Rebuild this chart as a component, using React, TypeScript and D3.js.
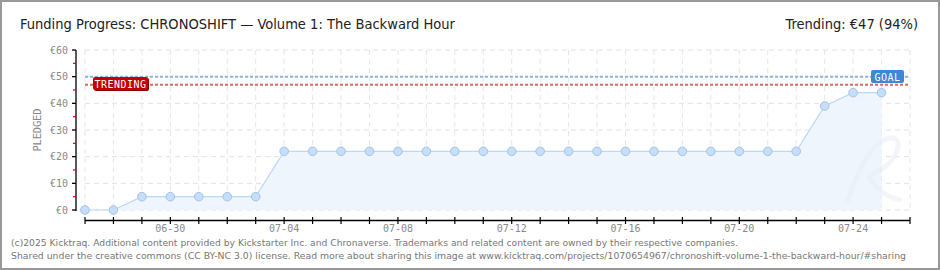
import React from "react";
import * as d3 from "d3";

const dates = ["06-27","06-28","06-29","06-30","07-01","07-02","07-03","07-04","07-05","07-06","07-07","07-08","07-09","07-10","07-11","07-12","07-13","07-14","07-15","07-16","07-17","07-18","07-19","07-20","07-21","07-22","07-23","07-24","07-25"];
const pledged = [0,0,5,5,5,5,5,22,22,22,22,22,22,22,22,22,22,22,22,22,22,22,22,22,22,22,39,44,44];
const axisDays = 30; // 06-27 .. 07-26
const labelDays = [3, 7, 11, 15, 19, 23, 27];
const labelTexts = ["06-30","07-04","07-08","07-12","07-16","07-20","07-24"];
const yTicks = [0, 10, 20, 30, 40, 50, 60];
const yMinor = [5, 15, 25, 35, 45, 55];
const goal = 50;
const trending = 47;
const title = "Funding Progress: CHRONOSHIFT \u2014 Volume 1: The Backward Hour";
const trendText = "Trending: \u20ac47 (94%)";
const footer1 = "(c)2025 Kicktraq. Additional content provided by Kickstarter Inc. and Chronaverse. Trademarks and related content are owned by their respective companies.";
const footer2 = "Shared under the creative commons (CC BY-NC 3.0) license. Read more about sharing this image at www.kicktraq.com/projects/1070654967/chronoshift-volume-1-the-backward-hour/#sharing";

const W = 940, H = 270;
const pix = "'DejaVu Sans Mono', monospace";

export default function App() {
  const x = d3.scaleLinear().domain([0, axisDays - 1]).range([85, 910]);
  const y = d3.scaleLinear().domain([0, 60]).range([210, 50]);
  const idx = d3.range(axisDays);
  const pts = pledged.map((v, i) => [x(i), y(v)] as [number, number]);
  const line = d3.line<[number, number]>()(pts) || "";
  const area = d3.area<[number, number]>().x(d => d[0]).y0(y(0)).y1(d => d[1])(pts) || "";

  return (
    <div style={{ position: "absolute", left: 0, top: 0 }}>
      <svg width={W} height={H} style={{ display: "block", background: "#fff" }}>
        <rect x={1} y={1} width={W - 2} height={H - 2} fill="#fff" stroke="#999" strokeWidth={2} />
        <text x={20} y={29} fontFamily="'DejaVu Sans Condensed','Liberation Sans Narrow',sans-serif" fontSize={14.5} fill="#222" textLength={435} lengthAdjust="spacingAndGlyphs">{title}</text>
        <text x={918} y={29} textAnchor="end" fontFamily="'DejaVu Sans Condensed','Liberation Sans Narrow',sans-serif" fontSize={14.5} fill="#222">{trendText}</text>

        {/* grid */}
        {yTicks.map(t => (
          <line key={"gy" + t} x1={85} x2={910} y1={y(t)} y2={y(t)} stroke="#e2e2e2" strokeDasharray="5,4" />
        ))}
        {idx.map(i => (
          <line key={"gx" + i} x1={x(i)} x2={x(i)} y1={50} y2={210} stroke="#e6e6e6" strokeDasharray="5,4" />
        ))}

        {/* area + line */}
        <path d={area} fill="#eef5fd" />

        {/* watermark */}
        <path d="M848,200 C858,170 872,140 890,138 C905,137 898,160 880,170 C870,176 866,175 872,182 C880,192 890,198 900,200" fill="none" stroke="#e9eef5" strokeOpacity={0.6} strokeWidth={5} strokeLinecap="round" />

        <path d={line} fill="none" stroke="#bcd8f4" strokeWidth={1.2} />

        {/* goal & trending lines */}
        <line x1={85} x2={910} y1={y(goal)} y2={y(goal)} stroke="#8fb3dd" strokeWidth={2} strokeDasharray="3,2" />
        <line x1={85} x2={910} y1={y(trending) } y2={y(trending)} stroke="#d46a6a" strokeWidth={2} strokeDasharray="3,2" />

        {pts.map((p, i) => (
          <circle key={"p" + i} cx={p[0]} cy={p[1]} r={4.3} fill="#c6defa" stroke="#a3c3e6" strokeWidth={1} />
        ))}

        {/* labels */}
        <rect x={94} y={78} width={55} height={13} rx={2} fill="#8a0000" />
        <rect x={93} y={77} width={55} height={13} rx={2} fill="#c40000" />
        <text x={120.5} y={87.5} textAnchor="middle" fontFamily={pix} fontSize={10} fill="#fff" letterSpacing={0.5}>TRENDING</text>
        <rect x={871} y={70} width={33} height={13} rx={2} fill="#3b87d8" />
        <text x={887.5} y={80.5} textAnchor="middle" fontFamily={pix} fontSize={10} fill="#fff" letterSpacing={0.5}>GOAL</text>

        {/* y axis */}
        <line x1={76} x2={76} y1={50} y2={211} stroke="#000" strokeWidth={1.3} />
        {yTicks.map(t => (
          <g key={"yt" + t}>
            <line x1={72} x2={76} y1={y(t)} y2={y(t)} stroke="#000" strokeWidth={1.3} />
            <text x={68} y={y(t) + 3.5} textAnchor="end" fontFamily={pix} fontSize={10} fill="#8a8a8a">{"\u20ac" + t}</text>
          </g>
        ))}
        {yMinor.map(t => (
          <line key={"ym" + t} x1={73} x2={76} y1={y(t)} y2={y(t)} stroke="#e00000" strokeWidth={1.2} />
        ))}
        <text transform={`translate(41,130) rotate(-90)`} textAnchor="middle" fontFamily={pix} fontSize={10.5} fill="#888" textLength={43} lengthAdjust="spacing">PLEDGED</text>

        {/* x axis */}
        <line x1={85} x2={910} y1={220.5} y2={220.5} stroke="#000" strokeWidth={1.3} />
        {idx.map(i => (
          <line key={"xt" + i} x1={x(i)} x2={x(i)} y1={217} y2={224} stroke="#000" strokeWidth={1.2} />
        ))}
        {labelDays.map((d, k) => (
          <text key={"xl" + d} x={x(d)} y={231.5} textAnchor="middle" fontFamily={pix} fontSize={10} fill="#8a8a8a">{labelTexts[k]}</text>
        ))}

        {/* footer */}
        <text x={11} y={246} fontFamily="'DejaVu Sans',Verdana,sans-serif" fontSize={9.5} fill="#777" textLength={727} lengthAdjust="spacingAndGlyphs">{footer1}</text>
        <text x={11} y={259} fontFamily="'DejaVu Sans',Verdana,sans-serif" fontSize={9.5} fill="#777" textLength={895} lengthAdjust="spacingAndGlyphs">{footer2}</text>
      </svg>
    </div>
  );
}
